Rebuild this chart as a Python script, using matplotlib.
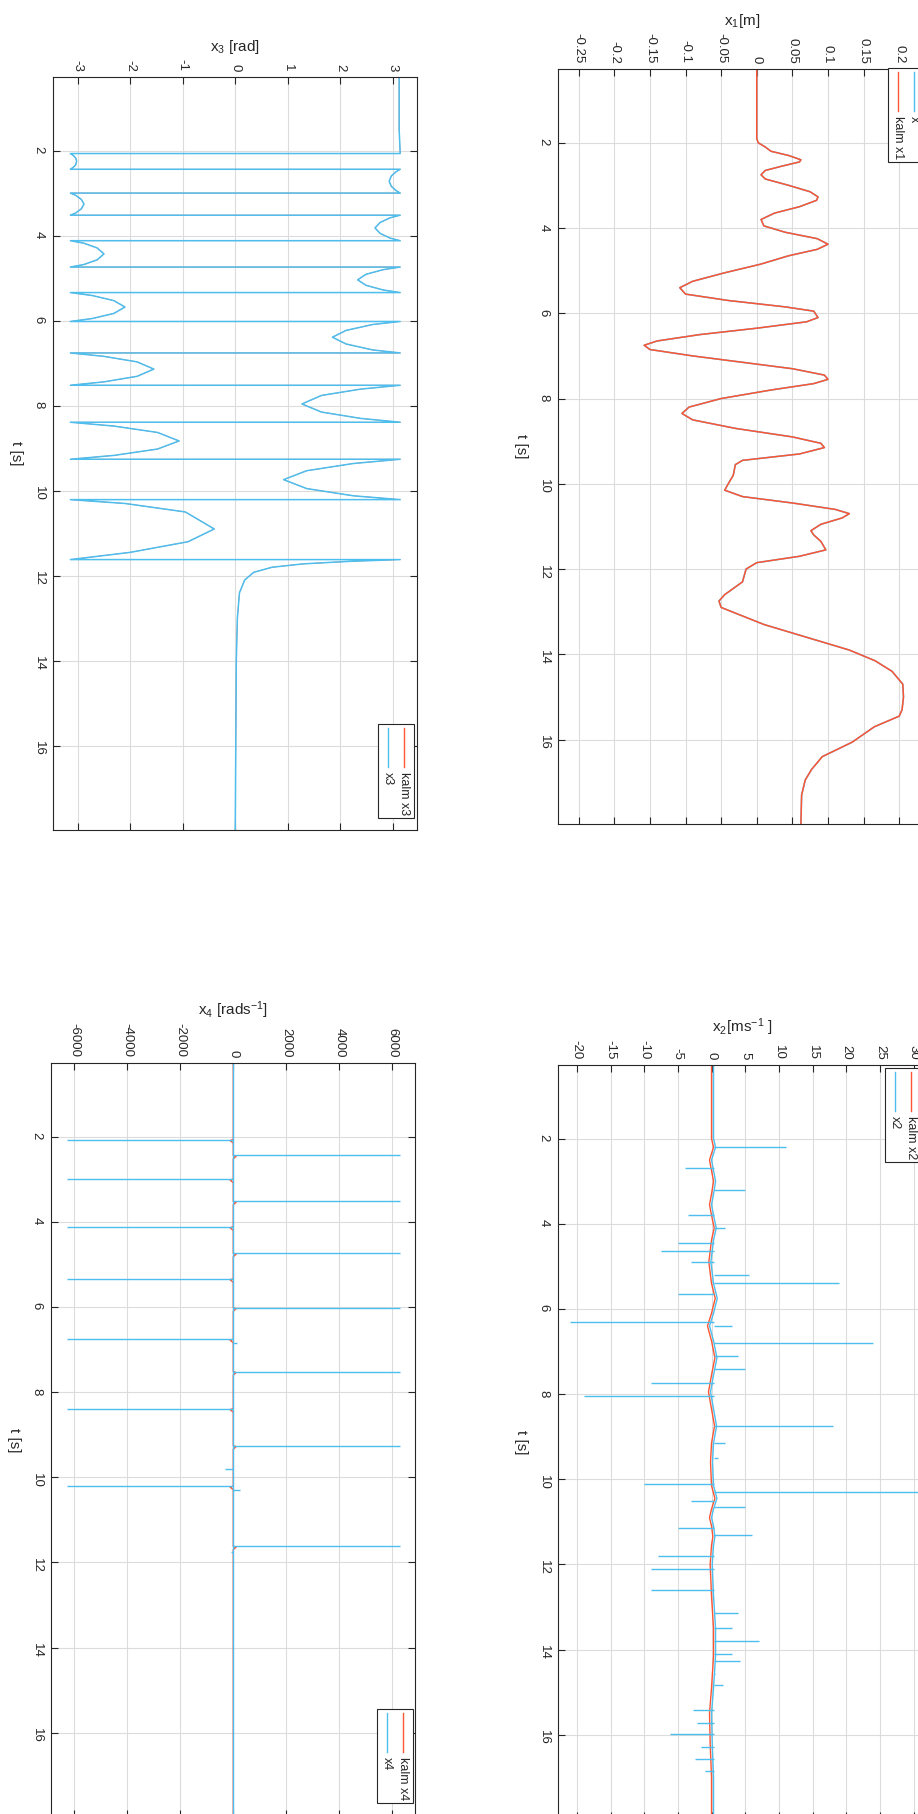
import numpy as np
import matplotlib.pyplot as plt
from matplotlib.patches import Rectangle
from matplotlib.lines import Line2D

plt.rcParams["font.family"] = ["Liberation Sans", "DejaVu Sans"]
plt.rcParams["mathtext.default"] = "regular"
plt.rcParams["axes.unicode_minus"] = False

BLUE = "#4DBEEE"
RED = "#FF5533"
INK = "#262626"

T_LIM = (0.27, 17.98)
T_TICKS = [2, 4, 6, 8, 10, 12, 14, 16]

# cart position x1 [m] (measured and kalman estimate overlap)
x1_t = [0.28, 1.9, 2.0, 2.1, 2.2, 2.3, 2.4, 2.45, 2.55, 2.65, 2.75, 2.85, 3.0,
        3.15, 3.27, 3.35, 3.5, 3.65, 3.8, 3.95, 4.1, 4.25, 4.38, 4.5, 4.65,
        4.85, 5.05, 5.25, 5.4, 5.55, 5.7, 5.85, 5.95, 6.1, 6.2, 6.35, 6.5,
        6.65, 6.75, 6.85, 7.0, 7.15, 7.3, 7.45, 7.55, 7.65, 7.8, 8.0, 8.2,
        8.35, 8.5, 8.7, 8.9, 9.05, 9.15, 9.3, 9.45, 9.55, 9.8, 10.0, 10.15,
        10.3, 10.45, 10.6, 10.7, 10.8, 10.95, 11.1, 11.2, 11.35, 11.55, 11.7,
        11.85, 12.0, 12.3, 12.6, 12.75, 12.9, 13.1, 13.3, 13.6, 13.9, 14.15,
        14.4, 14.7, 15.0, 15.3, 15.45, 15.7, 16.06, 16.4, 16.7, 16.95, 17.3,
        17.97]
x1_v = [0.0, 0.0, 0.002, 0.012, 0.02, 0.045, 0.062, 0.06, 0.035, 0.012, 0.006,
        0.012, 0.045, 0.075, 0.086, 0.084, 0.06, 0.025, 0.006, 0.01, 0.04,
        0.085, 0.1, 0.085, 0.045, 0.005, -0.045, -0.09, -0.108, -0.1, -0.04,
        0.04, 0.08, 0.086, 0.07, 0.0, -0.08, -0.14, -0.158, -0.15, -0.09,
        -0.02, 0.05, 0.095, 0.1, 0.08, 0.02, -0.05, -0.095, -0.105, -0.09,
        -0.03, 0.05, 0.09, 0.095, 0.06, -0.02, -0.03, -0.033, -0.04, -0.045,
        -0.02, 0.05, 0.11, 0.13, 0.12, 0.09, 0.076, 0.08, 0.09, 0.097, 0.06,
        0.0, -0.015, -0.02, -0.045, -0.053, -0.05, -0.02, 0.01, 0.07, 0.13,
        0.166, 0.19, 0.205, 0.206, 0.204, 0.2, 0.165, 0.134, 0.092, 0.077,
        0.068, 0.063, 0.062]

# pendulum angle x3 [rad], wrapped to (-pi, pi]; one row per swing
x3_t = [0.28, 1.5, 2.07,
        2.07, 2.11, 2.17, 2.25, 2.34, 2.40, 2.44,
        2.44, 2.50, 2.60, 2.72, 2.84, 2.94, 3.0,
        3.0, 3.05, 3.15, 3.26, 3.37, 3.47, 3.52,
        3.52, 3.58, 3.69, 3.82, 3.95, 4.06, 4.12,
        4.12, 4.18, 4.29, 4.43, 4.57, 4.68, 4.74,
        4.74, 4.80, 4.91, 5.04, 5.17, 5.28, 5.34,
        5.34, 5.41, 5.53, 5.68, 5.83, 5.95, 6.02,
        6.02, 6.09, 6.23, 6.39, 6.55, 6.69, 6.76,
        6.76, 6.84, 6.97, 7.14, 7.31, 7.44, 7.52,
        7.52, 7.61, 7.76, 7.96, 8.15, 8.30, 8.39,
        8.39, 8.48, 8.63, 8.83, 9.02, 9.17, 9.26,
        9.26, 9.36, 9.53, 9.74, 9.95, 10.12, 10.21,
        10.21, 10.3, 10.5, 10.9, 11.2, 11.45, 11.62,
        11.62, 11.66, 11.72, 11.8, 11.92, 12.1, 12.4, 13.0, 14.0, 17.97]
x3_v = [3.12, 3.12, 3.14,
        -3.14, -3.09, -3.04, -3.02, -3.04, -3.09, -3.14,
        3.14, 3.06, 2.97, 2.93, 2.97, 3.06, 3.14,
        -3.14, -3.04, -2.93, -2.88, -2.93, -3.04, -3.14,
        3.14, 2.95, 2.76, 2.66, 2.76, 2.95, 3.14,
        -3.14, -2.88, -2.63, -2.5, -2.63, -2.88, -3.14,
        3.14, 2.82, 2.49, 2.33, 2.49, 2.82, 3.14,
        -3.14, -2.72, -2.31, -2.1, -2.31, -2.72, -3.14,
        3.14, 2.62, 2.11, 1.85, 2.11, 2.62, 3.14,
        -3.14, -2.50, -1.87, -1.55, -1.87, -2.50, -3.14,
        3.14, 2.39, 1.64, 1.27, 1.64, 2.39, 3.14,
        -3.14, -2.31, -1.48, -1.07, -1.48, -2.31, -3.14,
        3.14, 2.25, 1.36, 0.92, 1.36, 2.25, 3.14,
        -3.14, -2.1, -0.95, -0.4, -0.9, -2.0, -3.14,
        3.14, 2.2, 1.3, 0.7, 0.35, 0.18, 0.08, 0.04, 0.02, 0.0]

# cart velocity x2 [m/s]: kalman estimate and finite-difference spikes
x2_t = [0.28, 2.0, 2.2, 2.5, 2.75, 3.0, 3.3, 3.55, 3.8, 4.1, 4.38, 4.9, 5.4,
        5.75, 6.1, 6.4, 6.75, 7.15, 7.55, 7.95, 8.35, 8.75, 9.15, 9.6, 10.15,
        10.45, 10.7, 10.9, 11.1, 11.35, 11.55, 12.0, 12.75, 13.5, 14.15,
        14.9, 15.5, 16.2, 17.0, 17.97]
x2_v = [0.0, 0.0, 0.3, -0.3, 0.0, 0.3, 0.0, -0.3, 0.0, 0.4, 0.0, -0.4, 0.0,
        0.55, 0.0, -0.6, 0.0, 0.5, 0.0, -0.45, 0.0, 0.45, 0.0, -0.15, 0.0,
        0.5, 0.0, -0.3, 0.0, 0.2, 0.0, -0.2, 0.0, 0.3, 0.3, 0.0, -0.3, -0.2,
        0.0, 0.0]
spike2_t = [2.2, 2.7, 3.2, 3.8, 4.1, 4.45, 4.65, 4.9, 5.2, 5.4, 5.65, 6.3,
            6.4, 6.8, 7.1, 7.4, 7.75, 8.05, 8.75, 9.15, 9.5, 10.1, 10.3, 10.5,
            10.65, 11.15, 11.3, 11.8, 12.1, 12.6, 13.15, 13.5, 13.8, 14.1,
            14.27, 14.57, 14.83, 15.42, 15.72, 15.98, 16.3, 16.57, 16.85]
spike2_v = [11, -4, 5, -3.5, 2, -5, -7.5, -3, 5.5, 19, -5, -21, 3, 24, 4, 5,
            -9, -19, 18, 2, 1, -10, 33, -3, 5, -5, 6, -8, -9, -9, 4, 3, 7, 3,
            4.2, 0.5, 1.7, -2.8, -2.1, -6.1, -1.5, -2.4, -1.0]

# pendulum angular velocity x4 [rad/s]: wrap spikes of the difference
wrap_t = [2.07, 2.44, 3.0, 3.52, 4.12, 4.74, 5.34, 6.02, 6.76, 7.52, 8.39,
          9.26, 10.21, 11.62]
wrap_v = [-6283, 6283, -6283, 6283, -6283, 6283, -6283, 6283, -6283, 6283,
          -6283, 6283, -6283, 6283]
kalm4_v = [-120, 110, -120, 110, -120, 110, -120, 110, -120, 110, -120, 110,
           -120, 110]
small4_t = [6.85, 9.8, 10.3, 11.75]
small4_v = [150, -300, 250, -100]


W, H = 918, 1814
fig = plt.figure(figsize=(W / 100, H / 100), dpi=100)


def panel(left, top, right, bottom):
    return fig.add_axes([left / W, 1 - bottom / H, (right - left) / W,
                         (bottom - top) / H])


def style(ax, xlim, xticks, xlabel):
    ax.set_xlim(xlim)
    ax.set_ylim(T_LIM[1], T_LIM[0])
    ax.xaxis.tick_top()
    ax.xaxis.set_label_position("top")
    ax.set_xticks(xticks)
    ax.set_yticks(T_TICKS)
    ax.tick_params(axis="both", direction="in", length=5, width=0.8,
                   colors=INK, labelsize=9.5, top=True, bottom=True,
                   left=True, right=True)
    ax.tick_params(axis="x", labelrotation=-90, pad=4)
    ax.tick_params(axis="y", labelrotation=-90, pad=6)
    for s in ax.spines.values():
        s.set_color(INK)
        s.set_linewidth(0.8)
    ax.grid(True, color="#DCDCDC", lw=0.8)
    ax.set_axisbelow(True)
    ax.set_xlabel(xlabel, fontsize=11, color=INK, labelpad=6)
    ax.set_ylabel("t [s]", fontsize=11, color=INK, rotation=-90,
                  va="center", labelpad=12)


def legend(right, top, entries):
    # entries listed right to left, each drawn as a vertical line over rotated text
    n = len(entries)
    left = right - 16 * n - 4
    fig.add_artist(Rectangle((left / W, 1 - (top + 94) / H), (right - left) / W,
                             94 / H, transform=fig.transFigure, fc="white",
                             ec=INK, lw=0.8, zorder=10))
    for i, (label, color) in enumerate(entries):
        x = (right - 10 - 16 * i) / W
        fig.add_artist(Line2D([x, x], [1 - (top + 4) / H, 1 - (top + 43) / H],
                              transform=fig.transFigure, color=color, lw=1.0,
                              zorder=11))
        fig.text(x, 1 - (top + 48) / H, label, rotation=-90, ha="center",
                 va="top", fontsize=9, color=INK, zorder=11)


# x3: pendulum angle (estimate sits underneath the measurement)
ax3 = panel(53, 77, 417, 830)
ax3.plot(x3_v, x3_t, color=RED, lw=0.5)
ax3.plot(x3_v, x3_t, color=BLUE, lw=1.1)
style(ax3, (-3.47, 3.46), [-3, -2, -1, 0, 1, 2, 3], "x$_3$ [rad]")
legend(414, 724, [("kalm x3", RED), ("x3", BLUE)])

# x1: cart position
ax1 = panel(558, 69, 927, 824)
ax1.plot(x1_v, x1_t, color=BLUE, lw=1.1)
ax1.plot(x1_v, x1_t, color=RED, lw=1.1)
style(ax1, (-0.279, 0.239), [-0.25, -0.2, -0.15, -0.1, -0.05, 0, 0.05, 0.1,
                             0.15, 0.2], "x$_1$[m]")
ax1.set_xticklabels(["-0.25", "-0.2", "-0.15", "-0.1", "-0.05", "0", "0.05",
                     "0.1", "0.15", "0.2"])
legend(924, 68, [("x", BLUE), ("kalm x1", RED)])

# x4: pendulum angular velocity
ax4 = panel(51, 1063, 415, 1817)
kt, kv = [T_LIM[0]], [0.0]
for t, v in zip(wrap_t, kalm4_v):
    kt += [t, t + 0.02, t + 0.08]
    kv += [0.0, v, 0.0]
kt.append(17.97)
kv.append(0.0)
ax4.plot(kv, kt, color=RED, lw=1.0)
ax4.axvline(0, color=BLUE, lw=1.0)
ax4.hlines(wrap_t, 0, wrap_v, color=BLUE, lw=1.0)
ax4.hlines(small4_t, 0, small4_v, color=BLUE, lw=1.0)
style(ax4, (-6880, 6860), [-6000, -4000, -2000, 0, 2000, 4000, 6000],
      "x$_4$ [rads$^{-1}$]")
legend(413, 1709, [("kalm x4", RED), ("x4", BLUE)])

# x2: cart velocity
ax2 = panel(558, 1065, 927, 1819)
ax2.plot(x2_v, x2_t, color=RED, lw=1.0)
ax2.plot(np.array(x2_v) + 0.3, x2_t, color=BLUE, lw=1.0)
ax2.hlines(spike2_t, 0.3, spike2_v, color=BLUE, lw=1.0)
style(ax2, (-22.8, 32.0), [-20, -15, -10, -5, 0, 5, 10, 15, 20, 25, 30],
      "x$_2$[ms$^{-1}$ ]")
legend(921, 1068, [("kalm x2", RED), ("x2", BLUE)])

fig.savefig("out.png", dpi=100, facecolor="white")
